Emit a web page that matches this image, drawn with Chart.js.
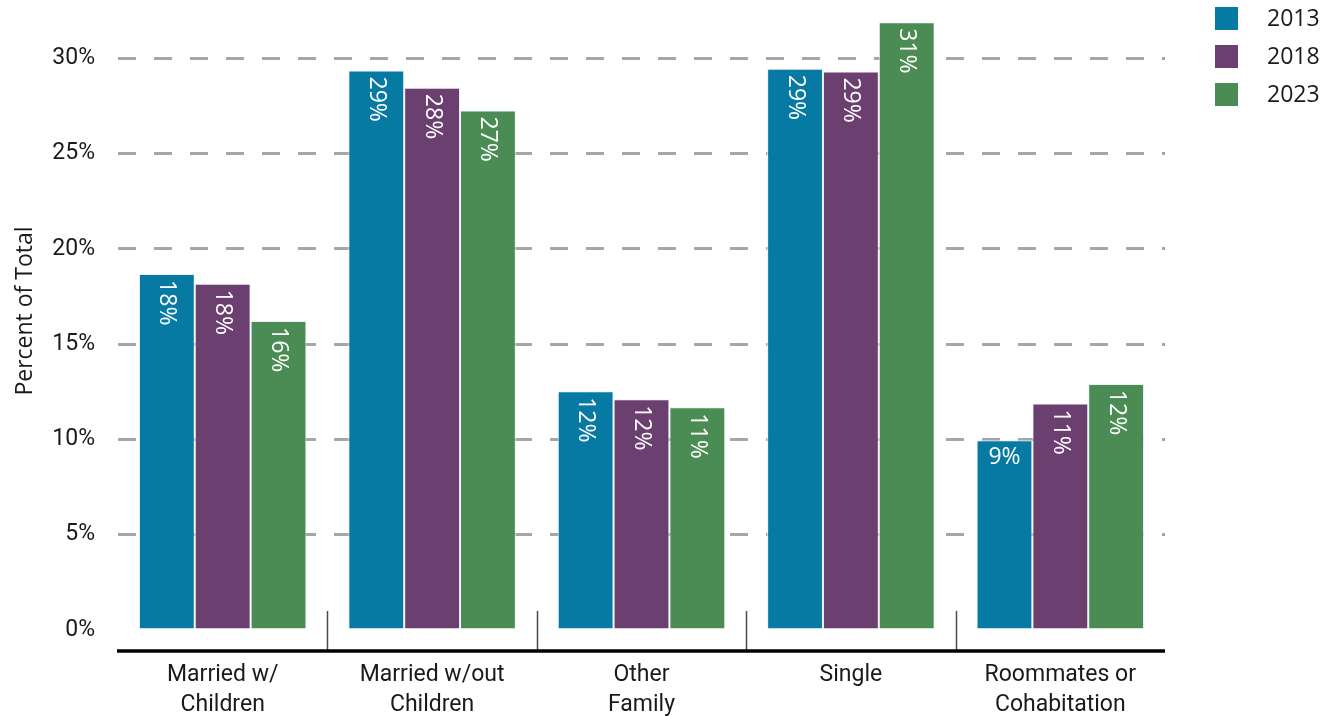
<!DOCTYPE html>
<html>
<head>
<meta charset="utf-8">
<script src="https://cdn.jsdelivr.net/npm/chart.js@4/dist/chart.umd.min.js"></script>
<style>
  html, body { margin: 0; padding: 0; background: #fff; }
  #wrap { width: 1325px; height: 716px; position: relative; }
</style>
</head>
<body>
<div id="wrap"><canvas id="chart" width="1325" height="716"></canvas></div>
<script>
// Household types (two-line category labels)
const categories = [
  ['Married w/', 'Children'],
  ['Married w/out', 'Children'],
  ['Other', 'Family'],
  ['Single'],
  ['Roommates or', 'Cohabitation']
];
const years = ['2013', '2018', '2023'];

// Share of all households, in percent
const share2013 = [18.67, 29.35, 12.53, 29.44, 9.95];
const share2018 = [18.17, 28.44, 12.11, 29.30, 11.88];
const share2023 = [16.21, 27.25, 11.68, 31.88, 12.91];

const yTicks = [0, 5, 10, 15, 20, 25, 30];
const yTitle = 'Percent of Total';

const colors = ['#077aa3', '#6b4070', '#4b8c54'];
const FONT_SANS = '"Open Sans", "Noto Sans", sans-serif';
const FONT_ROBOTO = 'Roboto, "Noto Sans", sans-serif';

// Value labels written inside the top of each bar
const barLabels = {
  id: 'barLabels',
  afterDatasetsDraw(chart) {
    const ctx = chart.ctx;
    ctx.save();
    ctx.fillStyle = '#ffffff';
    ctx.font = '23px ' + FONT_SANS;
    chart.data.datasets.forEach((ds, di) => {
      const meta = chart.getDatasetMeta(di);
      meta.data.forEach((bar, i) => {
        const text = Math.floor(ds.data[i]) + '%';
        if (text.length <= 2) {
          ctx.textAlign = 'center';
          ctx.textBaseline = 'top';
          ctx.fillText(text, bar.x, bar.y + 6);
        } else {
          ctx.save();
          ctx.translate(bar.x, bar.y + 6);
          ctx.rotate(Math.PI / 2);
          ctx.textAlign = 'left';
          ctx.textBaseline = 'middle';
          ctx.fillText(text, 0, 0);
          ctx.restore();
        }
      });
    });
    ctx.restore();
  }
};

// Baseline under the plot and short dividers between category groups
const groupAxis = {
  id: 'groupAxis',
  afterDatasetsDraw(chart) {
    const {ctx, chartArea} = chart;
    const x = chart.scales.x;
    const axisY = chartArea.bottom + 21;
    ctx.save();
    ctx.strokeStyle = '#4a4a4a';
    ctx.lineWidth = 1.5;
    for (let i = 0; i < categories.length - 1; i++) {
      const bx = Math.round((x.getPixelForValue(i) + x.getPixelForValue(i + 1)) / 2) + 0.5;
      ctx.beginPath();
      ctx.moveTo(bx, chartArea.bottom - 19);
      ctx.lineTo(bx, axisY);
      ctx.stroke();
    }
    ctx.strokeStyle = '#000000';
    ctx.lineWidth = 3.5;
    ctx.beginPath();
    ctx.moveTo(chartArea.left - 1, axisY);
    ctx.lineTo(chartArea.right, axisY);
    ctx.stroke();
    ctx.restore();
  }
};

// Vertical axis title, set a little above the middle of the plot
const axisTitle = {
  id: 'axisTitle',
  afterDraw(chart) {
    const {ctx, chartArea} = chart;
    ctx.save();
    ctx.translate(25, (chartArea.top + chartArea.bottom) / 2 - 14);
    ctx.rotate(-Math.PI / 2);
    ctx.font = '23px ' + FONT_SANS;
    ctx.fillStyle = '#1a1a1a';
    ctx.textAlign = 'center';
    ctx.textBaseline = 'middle';
    ctx.fillText(yTitle, 0, 0);
    ctx.restore();
  }
};

// Year key in the top right corner
const yearKey = {
  id: 'yearKey',
  afterDraw(chart) {
    const ctx = chart.ctx;
    ctx.save();
    ctx.font = '23px ' + FONT_SANS;
    ctx.textAlign = 'left';
    ctx.textBaseline = 'middle';
    chart.data.datasets.forEach((ds, i) => {
      const top = 7 + i * 38;
      ctx.fillStyle = ds.backgroundColor;
      ctx.fillRect(1215, top, 23, 23);
      ctx.fillStyle = '#1a1a1a';
      ctx.fillText(ds.label, 1267, top + 12);
    });
    ctx.restore();
  }
};

const seriesValues = [share2013, share2018, share2023];

new Chart(document.getElementById('chart'), {
  type: 'bar',
  data: {
    labels: categories,
    datasets: years.map((y, i) => ({
      label: y,
      data: seriesValues[i],
      backgroundColor: colors[i],
      borderColor: 'rgba(235,240,245,0.9)',
      borderWidth: 1,
      categoryPercentage: 0.8,
      barPercentage: 1.0
    }))
  },
  plugins: [barLabels, groupAxis, axisTitle, yearKey],
  options: {
    responsive: false,
    animation: false,
    layout: { padding: { top: 20, right: 160, left: 0, bottom: 0 } },
    plugins: {
      legend: { display: false },
      tooltip: { enabled: false }
    },
    scales: {
      x: {
        grid: { display: false, drawTicks: false },
        border: { display: false },
        ticks: {
          padding: 30,
          color: '#1a1a1a',
          font: { family: FONT_ROBOTO, size: 23, lineHeight: 1.3 },
          maxRotation: 0,
          autoSkip: false
        },
        afterFit(scale) { scale.height = 86; }
      },
      y: {
        min: 0,
        max: 32,
        afterBuildTicks(scale) {
          scale.ticks = yTicks.map(v => ({ value: v }));
        },
        grid: {
          drawTicks: false,
          lineWidth: 3,
          color: ctx => (ctx.tick && ctx.tick.value === 0) ? 'rgba(0,0,0,0)' : '#a6a6a6'
        },
        border: { display: false, dash: [18, 18] },
        ticks: {
          padding: 23,
          color: '#1a1a1a',
          font: { family: FONT_ROBOTO, size: 23 },
          callback: v => v + '%'
        },
        afterFit(scale) {
          scale.width = 118;
          scale.paddingTop = 0;
          scale.paddingBottom = 0;
        }
      }
    }
  }
});
</script>
</body>
</html>
